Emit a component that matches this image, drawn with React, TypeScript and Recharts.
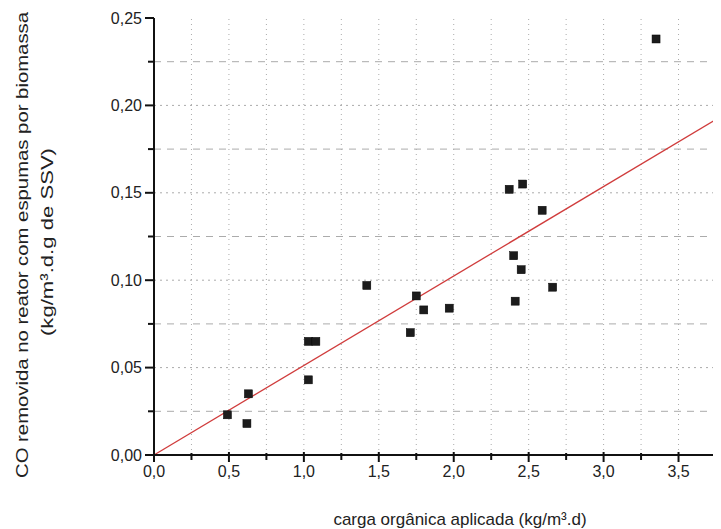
import { ScatterChart, Scatter, XAxis, YAxis, ReferenceLine } from "recharts";

// carga orgânica aplicada (kg/m3.d)
const cargaAplicada = [
  0.49, 0.62, 0.63, 1.03, 1.03, 1.08, 1.42, 1.71, 1.75, 1.8, 1.97, 2.37,
  2.46, 2.59, 2.4, 2.45, 2.41, 2.66, 3.35,
];
// CO removida por biomassa (kg/m3.d.g SSV)
const coRemovida = [
  0.023, 0.018, 0.035, 0.043, 0.065, 0.065, 0.097, 0.070, 0.091, 0.083,
  0.084, 0.152, 0.155, 0.140, 0.114, 0.106, 0.088, 0.096, 0.238,
];

// regression line through origin
const fitX = [0, 3.77];
const fitY = [0, 0.193];

const xTicks = [0, 0.25, 0.5, 0.75, 1, 1.25, 1.5, 1.75, 2, 2.25, 2.5, 2.75, 3, 3.25, 3.5, 3.75];
const yTicks = [0, 0.025, 0.05, 0.075, 0.1, 0.125, 0.15, 0.175, 0.2, 0.225, 0.25];
const gridX = [0.25, 0.5, 0.75, 1, 1.25, 1.5, 1.75, 2, 2.25, 2.5, 2.75, 3, 3.25, 3.5, 3.75];
const gridYDotted = [0.05, 0.1, 0.15, 0.2];
const gridYDashed = [0.025, 0.075, 0.125, 0.175, 0.225];

const data = cargaAplicada.map((x, i) => ({ x, y: coRemovida[i] }));

const FONT = "'Liberation Sans', Arial, sans-serif";
const isMajor = (v: number, step: number) => Math.abs(v / step - Math.round(v / step)) < 1e-6;

const XTick = ({ x, y, payload }: any) => {
  const major = isMajor(payload.value, 0.5);
  return (
    <g>
      <line x1={x} x2={x} y1={y - (major ? 3 : 2)} y2={y + (major ? 7 : 5)} stroke="#111" strokeWidth={2} />
      {major && (
        <text x={x} y={y + 22} textAnchor="middle" fontSize={16} fill="#222" fontFamily={FONT}>
          {payload.value.toFixed(1).replace(".", ",")}
        </text>
      )}
    </g>
  );
};

const YTick = ({ x, y, payload }: any) => {
  const major = isMajor(payload.value, 0.05);
  return (
    <g>
      <line x1={x - (major ? 9 : 6)} x2={x} y1={y} y2={y} stroke="#111" strokeWidth={2} />
      {major && (
        <text x={x - 12} y={y} textAnchor="end" dominantBaseline="central" fontSize={16} fill="#222" fontFamily={FONT}>
          {payload.value.toFixed(2).replace(".", ",")}
        </text>
      )}
    </g>
  );
};

const YLabel = ({ viewBox }: any) => {
  const cy = 237;
  const x0 = (viewBox?.x ?? 0) + 14;
  const x1 = (viewBox?.x ?? 0) + 39;
  return (
    <g fontFamily={FONT} fill="#222">
      <text
        transform={`translate(${x0},${cy}) rotate(-90)`}
        textAnchor="middle"
        dominantBaseline="central"
        fontSize={17}
        textLength={466}
        lengthAdjust="spacingAndGlyphs"
      >
        CO removida no reator com espumas por biomassa
      </text>
      <text
        transform={`translate(${x1},${cy - 3}) rotate(-90)`}
        textAnchor="middle"
        dominantBaseline="central"
        fontSize={17}
        textLength={188}
        lengthAdjust="spacingAndGlyphs"
      >
        (kg/m³.d.g de SSV)
      </text>
    </g>
  );
};

const XLabel = ({ viewBox }: any) => (
  <text
    x={452}
    y={(viewBox?.y ?? 447) + 64}
    textAnchor="middle"
    dominantBaseline="central"
    fontSize={17}
    fill="#222"
    fontFamily={FONT}
  >
    carga orgânica aplicada (kg/m³.d)
  </text>
);

const Square = ({ cx, cy }: any) => (
  <rect x={cx - 4} y={cy - 4} width={8} height={8} fill="#1c1c1c" stroke="#000" strokeWidth={0.5} />
);

export default function App() {
  return (
    <div style={{ width: 713, height: 521, background: "#fff" }}>
      <ScatterChart width={713} height={521} margin={{ top: 10, right: 5, bottom: 0, left: 0 }}>
        <XAxis
          type="number"
          dataKey="x"
          domain={[0, 3.75]}
          ticks={xTicks}
          interval={0}
          tickSize={0}
          tickMargin={0}
          tickLine={false}
          tick={<XTick />}
          axisLine={{ stroke: "#111", strokeWidth: 2 }}
          height={74}
          label={<XLabel />}
        />
        <YAxis
          type="number"
          dataKey="y"
          domain={[0, 0.25]}
          ticks={yTicks}
          interval={0}
          tickSize={0}
          tickMargin={0}
          tickLine={false}
          tick={<YTick />}
          axisLine={{ stroke: "#111", strokeWidth: 2 }}
          width={146}
          label={<YLabel />}
        />
        {gridX.map((v) => (
          <ReferenceLine key={`gx${v}`} x={v} stroke="#ababab" strokeDasharray="1 4" strokeWidth={1} />
        ))}
        {gridYDotted.map((v) => (
          <ReferenceLine key={`gyd${v}`} y={v} stroke="#ababab" strokeDasharray="2 4" strokeWidth={1} />
        ))}
        {gridYDashed.map((v) => (
          <ReferenceLine key={`gya${v}`} y={v} stroke="#ababab" strokeDasharray="7 6" strokeWidth={1} />
        ))}
        <ReferenceLine
          segment={[
            { x: fitX[0], y: fitY[0] },
            { x: fitX[1], y: fitY[1] },
          ]}
          stroke="#d03c3c"
          strokeWidth={1.3}
          ifOverflow="visible"
        />
        <Scatter data={data} shape={<Square />} isAnimationActive={false} />
      </ScatterChart>
    </div>
  );
}
